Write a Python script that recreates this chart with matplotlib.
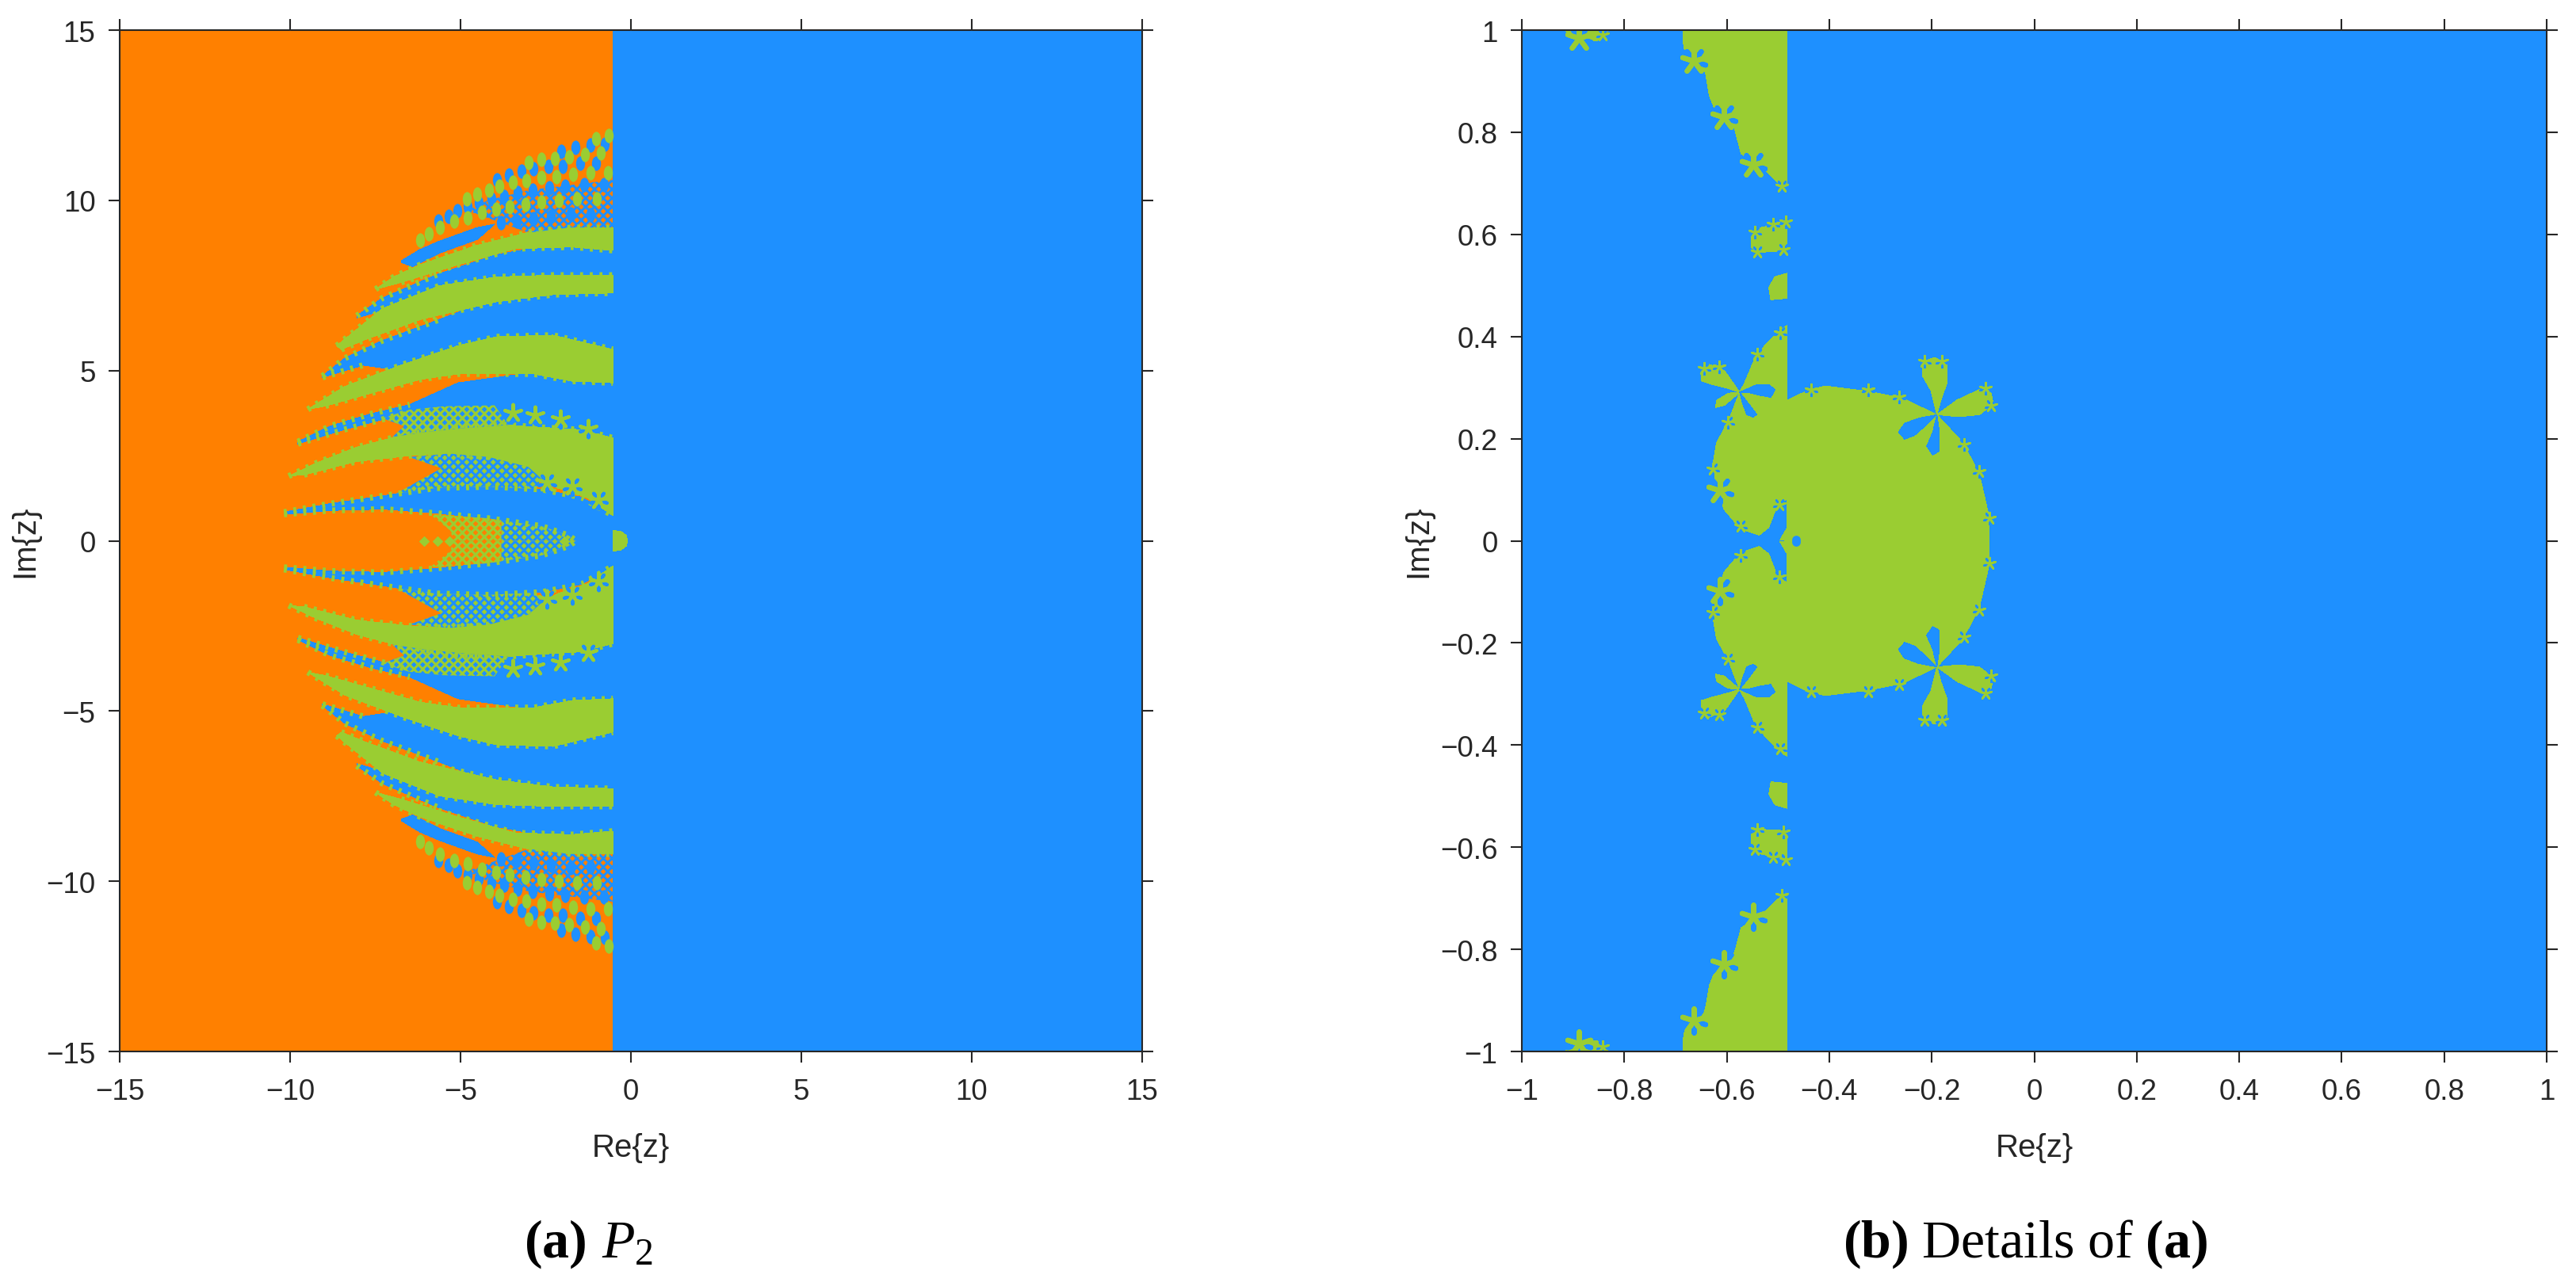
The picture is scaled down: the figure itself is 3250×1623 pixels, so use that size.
import numpy as np
import matplotlib
matplotlib.use('Agg')
import matplotlib.pyplot as plt
from matplotlib.markers import MarkerStyle
from matplotlib.transforms import Affine2D

plt.rcParams['font.family'] = ['Liberation Sans', 'DejaVu Sans']
plt.rcParams['mathtext.fontset'] = 'custom'
plt.rcParams['mathtext.rm'] = 'Liberation Serif'
plt.rcParams['mathtext.it'] = 'Liberation Serif:italic'
plt.rcParams['mathtext.bf'] = 'Liberation Serif:bold'
plt.rcParams['hatch.linewidth'] = 2.2

ORANGE = '#FF8000'
BLUE = '#1E90FF'
GREEN = '#9ACD32'
DARK = '#262626'

# ---- panel a, upper half only, the lower half is the mirror image ----
split_a = -0.53
ticks_a = [-15, -10, -5, 0, 5, 10, 15]

blue_0_up = [(-10.18, .84), (-8.82, 1.09), (-7.27, 1.32), (-5.72, 1.55), (-4.17, 1.59), (-2.62, 1.51), (-1.45, 1.28), (-.53, .74)]
blue_0_low = [(-10.18, .78), (-8.82, .89), (-7.27, .93), (-5.72, .81), (-4.17, .66), (-2.62, .43), (-1.84, .16), (-1.61, 0)]

green_1_up = [(-10.04, 1.90), (-9.21, 2.29), (-8.04, 2.75), (-6.88, 3.06), (-5.33, 3.33), (-3.78, 3.41), (-2.62, 3.33), (-1.45, 3.26), (-.53, 3.02)]
green_1_low = [(-9.59, 1.94), (-8.04, 2.33), (-6.49, 2.50), (-5.33, 2.56), (-4.17, 2.46), (-3.01, 2.17), (-2.62, 1.82), (-2.15, 1.55), (-1.30, 1.28), (-.53, .74)]

blue_1_up = [(-9.77, 2.91), (-8.82, 3.37), (-7.66, 3.72), (-6.49, 4.0), (-5.07, 4.64), (-2.84, 4.95), (-.53, 4.8)]
blue_1_low = [(-9.77, 2.85), (-8.43, 3.26), (-7.27, 3.57), (-6.49, 3.80), (-4.94, 3.95), (-3.78, 3.3), (-.53, 2.9)]

green_2_up = [(-9.48, 3.86), (-8.40, 4.53), (-6.74, 5.16), (-5.07, 5.73), (-3.95, 5.99), (-2.29, 6.04), (-.53, 5.62)]
green_2_low = [(-8.96, 3.96), (-7.29, 4.43), (-6.18, 4.74), (-5.07, 4.90), (-2.84, 4.90), (-1.73, 4.69), (-.53, 4.64)]

blue_2_up = [(-9.05, 4.84), (-8.40, 5.36), (-7.29, 5.88), (-5.62, 6.5), (-3.95, 7.15), (-2.29, 7.4), (-.53, 7.45)]
blue_2_low = [(-9.05, 4.80), (-7.85, 5.16), (-6.74, 5.0), (-5.07, 5.3), (-.53, 5.3)]

green_3_up = [(-8.63, 5.73), (-7.29, 6.82), (-5.62, 7.49), (-3.95, 7.75), (-2.29, 7.80), (-.53, 7.80)]
green_3_low = [(-8.5, 5.62), (-7.74, 5.93), (-6.18, 6.50), (-3.95, 7.02), (-2.29, 7.23), (-.53, 7.28)]

blue_3_up = [(-8.04, 6.61), (-7.29, 7.13), (-5.62, 7.85), (-3.95, 8.4), (-2.29, 8.7), (-.53, 8.7)]
blue_3_low = [(-8.04, 6.55), (-6.74, 6.92), (-5.62, 7.3), (-2.29, 7.5), (-.53, 7.5)]

green_4_up = [(-7.49, 7.39), (-6.96, 7.75), (-6.18, 8.11), (-4.51, 8.68), (-2.84, 9.10), (-1.73, 9.20), (-.53, 9.20)]
green_4_low = [(-6.74, 7.59), (-5.07, 8.11), (-3.40, 8.58), (-1.73, 8.63), (-.53, 8.53)]

blue_4_up = [(-6.74, 8.22), (-6.2, 8.55), (-5.62, 8.80), (-4.51, 9.2), (-4.0, 9.3)]
blue_4_low = [(-6.74, 8.18), (-6.4, 8.05), (-5.62, 8.45), (-4.51, 8.85), (-4.0, 9.3)]

bump_a = [(-.53, .30), (-.30, .28), (-.13, .15), (-.10, 0)]

speck_lens_left = [(-5.2, 0), (-5.3, .3), (-5.9, .78), (-4.2, .66), (-3.8, .6), (-3.8, 0)]
speck_lens_right = [(-3.8, 0), (-3.8, .6), (-2.62, .43), (-1.84, .16), (-1.61, 0)]
speck_1_low = [(-5.56, 2.13), (-6.5, 2.46), (-5.33, 2.56), (-4.17, 2.46), (-3.01, 2.17), (-2.62, 1.82), (-2.8, 1.52), (-4.17, 1.59), (-5.72, 1.55), (-6.9, 1.38)]
speck_1_up = [(-6.65, 3.37), (-7.3, 3.6), (-6.5, 3.85), (-5.5, 3.95), (-4, 3.98), (-3.6, 3.4), (-5, 3.3), (-6, 3.2), (-7.0, 3.05)]
speck_top = [(-4.8, 9.7), (-4.2, 10.0), (-3.0, 10.3), (-.53, 10.6), (-.53, 9.2), (-1.8, 9.2), (-3.0, 9.05)]

dots_green_x = [-.64, -1.03, -.88, -1.34, -1.81, -2.23, -2.62, -3.01, -.68, -1.19, -1.69, -2.19, -2.62, -3.06, -3.47, -3.85, -4.17, -4.52, -4.81, -.99, -1.57, -2.12, -2.62, -3.10, -3.55, -3.96, -4.37, -4.79, -5.18, -5.61, -5.93, -6.19]
dots_green_y = [11.90, 11.82, 11.39, 11.35, 11.28, 11.24, 11.20, 11.12, 10.81, 10.81, 10.77, 10.69, 10.66, 10.58, 10.52, 10.42, 10.31, 10.18, 10.04, 10.04, 10.04, 10.00, 9.96, 9.88, 9.80, 9.73, 9.65, 9.49, 9.38, 9.21, 9.03, 8.83]
dots_blue_x = [-.76, -1.19, -1.63, -2.04, -1.03, -1.50, -2.00, -2.43, -2.85, -3.22, -3.57, -3.94, -.80, -1.38, -1.92, -2.39, -2.88, -3.32, -3.71, -4.09, -4.46, -4.79, -5.09, -5.36, -5.64, -1.19, -1.77, -2.35, -2.87, -3.36, -3.81]
dots_blue_y = [11.66, 11.62, 11.55, 11.45, 11.08, 11.08, 11.00, 11.00, 10.93, 10.85, 10.73, 10.60, 10.46, 10.46, 10.42, 10.37, 10.31, 10.23, 10.11, 10.04, 9.92, 9.80, 9.69, 9.53, 9.38, 9.57, 9.61, 9.52, 9.47, 9.38, 9.34]

stars_a_x = [-2.46, -1.73, -.95, -3.47, -2.81, -2.08, -1.26]
stars_a_y = [1.71, 1.59, 1.20, 3.76, 3.68, 3.57, 3.29]
axis_dots_x = [-6.07, -5.68, -5.33, -1.95]
axis_dots_y = [0, 0, 0, 0]

# ---- panel b, upper half only, mirrored as well ----
split_b = -.482
ticks_b = [-1, -.8, -.6, -.4, -.2, 0, .2, .4, .6, .8, 1]
tick_labels_b = ['\u22121', '\u22120.8', '\u22120.6', '\u22120.4', '\u22120.2', '0', '0.2', '0.4', '0.6', '0.8', '1']

body_b = [(-.482, .422), (-.496, .413), (-.526, .382), (-.545, .358), (-.565, .310), (-.575, .291), (-.597, .234), (-.620, .192), (-.627, .151), (-.620, .102), (-.605, .061), (-.573, .023), (-.537, .011), (-.518, .026), (-.502, .068), (-.482, .083), (-.482, .026), (-.496, .002), (-.482, 0), (-.088, 0), (-.088, .047), (-.107, .130), (-.139, .192), (-.190, .247), (-.257, .279), (-.320, .292), (-.407, .303), (-.439, .296), (-.482, .275)]
top_b = [(-.686, 1), (-.684, .965), (-.665, .938), (-.642, .918), (-.634, .871), (-.626, .851), (-.585, .807), (-.572, .758), (-.526, .727), (-.500, .701), (-.482, .695), (-.482, 1)]
corner_b = [(-.915, 1), (-.90, .98), (-.875, .978), (-.85, .98), (-.83, 1)]
blob_6_b = [(-.552, .595), (-.54, .612), (-.50, .62), (-.482, .615), (-.482, .567), (-.54, .565), (-.552, .575)]
blob_5_b = [(-.518, .496), (-.506, .517), (-.482, .524), (-.482, .475), (-.514, .472)]

petals_green_b = [
    [(-.575, .291), (-.605, .334), (-.636, .346), (-.650, .337), (-.650, .313), (-.628, .306), (-.597, .298)],
    [(-.575, .291), (-.597, .289), (-.620, .275), (-.622, .261), (-.605, .265), (-.585, .282)],
    [(-.190, .247), (-.202, .295), (-.218, .323), (-.218, .351), (-.194, .359), (-.170, .344), (-.170, .310), (-.182, .276)],
    [(-.190, .247), (-.150, .276), (-.107, .296), (-.084, .289), (-.080, .268), (-.107, .247), (-.147, .243)],
]
petals_blue_b = [
    [(-.575, .291), (-.541, .306), (-.518, .306), (-.506, .296), (-.514, .281), (-.537, .285), (-.557, .290)],
    [(-.575, .291), (-.569, .268), (-.561, .247), (-.549, .242), (-.541, .247), (-.557, .268)],
    [(-.190, .247), (-.226, .240), (-.253, .230), (-.265, .213), (-.253, .199), (-.234, .206), (-.210, .227)],
    [(-.190, .247), (-.198, .213), (-.210, .185), (-.198, .168), (-.186, .175), (-.185, .213)],
]
hole_b_x = [-.465]
hole_b_y = [.002]

small_stars_x = [-.436, -.324, -.264, -.107, -.088, -.137, -.540, -.496, -.627, -.573, -.598, -.498, -.214, -.180, -.095, -.084, -.644, -.615, -.493, -.842, -.545, -.51, -.485, -.54, -.49]
small_stars_y = [.296, .296, .282, .135, .044, .189, .365, .408, .140, .028, .232, .071, .351, .352, .299, .265, .337, .341, .695, .99, .605, .62, .625, .565, .57]
big_stars_x = [-.665, -.606, -.548, -.614, -.889]
big_stars_y = [.94, .830, .736, .099, .985]


def xy(pts):
    a = np.array(pts)
    return a[:, 0], a[:, 1]


def both(ax, pts, color):
    x, y = xy(pts)
    ax.fill(x, y, color=color, lw=0, antialiased=False, zorder=2)
    ax.fill(x, -y, color=color, lw=0, antialiased=False, zorder=2)


def speckle(ax, pts, face, hatch_color, hatch='xxx'):
    x, y = xy(pts)
    for s in [1, -1]:
        if face is not None:
            ax.fill(x, s * y, color=face, lw=0, zorder=3)
        ax.fill(x, s * y, facecolor='none', edgecolor=hatch_color, hatch=hatch, lw=0, zorder=3)


def fringe(ax, pts, color=GREEN, lw=5.5):
    x, y = xy(pts)
    for s in [1, -1]:
        ax.plot(x, s * y, color=color, lw=lw, ls=(0, (0.5, 1.1)), zorder=4)


def both_scatter(ax, x, y, **kw):
    x = np.array(x)
    y = np.array(y)
    ax.scatter(x, y, **kw)
    ax.scatter(x, -y, **kw)


def stars(ax, x, y, s, lw):
    both_scatter(ax, x, y, marker=(5, 2, 36), s=s, color=BLUE, linewidths=lw, zorder=6)
    both_scatter(ax, x, y, marker=(5, 2, 0), s=s, color=GREEN, linewidths=lw, zorder=7)


def style(ax, ticks, labels):
    ax.set_xticks(ticks)
    ax.set_yticks(ticks)
    ax.set_xticklabels(labels)
    ax.set_yticklabels(labels)
    ax.tick_params(direction='out', length=10, width=1.5, color=DARK, labelcolor=DARK,
                   labelsize=26.5, top=True, right=True, pad=12)
    ax.tick_params(axis='x', pad=14)
    for sp in ax.spines.values():
        sp.set_linewidth(1.5)
        sp.set_color(DARK)
        sp.set_zorder(10)
    ax.set_xlabel('Re{z}', fontsize=29, color=DARK, labelpad=24)
    ax.set_ylabel('Im{z}', fontsize=29, color=DARK, labelpad=6)


fig = plt.figure(figsize=(32.5, 16.24), dpi=100)
ax1 = fig.add_axes([151 / 3250, 1 - 1328 / 1624, 1290 / 3250, 1289 / 1624])
ax2 = fig.add_axes([1920 / 3250, 1 - 1328 / 1624, 1293 / 3250, 1289 / 1624])

# panel a
ax1.axvspan(-15, split_a, color=ORANGE, lw=0, zorder=1)
ax1.axvspan(split_a, 15, color=BLUE, lw=0, zorder=1)

both(ax1, blue_0_up + [(-.53, 0)] + blue_0_low[::-1], BLUE)
both(ax1, blue_1_up + blue_1_low[::-1], BLUE)
both(ax1, blue_2_up + blue_2_low[::-1], BLUE)
both(ax1, blue_3_up + blue_3_low[::-1], BLUE)
both(ax1, blue_4_up + blue_4_low[::-1], BLUE)
both(ax1, green_1_up + green_1_low[::-1], GREEN)
both(ax1, green_2_up + green_2_low[::-1], GREEN)
both(ax1, green_3_up + green_3_low[::-1], GREEN)
both(ax1, green_4_up + green_4_low[::-1], GREEN)
both(ax1, bump_a + [(-.53, 0)], GREEN)

speckle(ax1, speck_top, None, BLUE)
speckle(ax1, speck_lens_left, ORANGE, GREEN)
speckle(ax1, speck_lens_right, GREEN, BLUE)
speckle(ax1, speck_1_low, GREEN, BLUE)
speckle(ax1, speck_1_up, BLUE, GREEN)

for edge in [blue_0_up, blue_0_low, green_1_low[:5], green_2_low, green_2_up, blue_1_up[:4], blue_1_low[:4],
             green_3_low, green_3_up, green_4_low, green_4_up, green_1_up, blue_2_up[:4], blue_3_up[:3], blue_2_low[:2]]:
    fringe(ax1, edge)

tall = MarkerStyle('o', transform=Affine2D().scale(.75, 1.2))
both_scatter(ax1, dots_blue_x, dots_blue_y, s=120, color=BLUE, marker=tall, lw=0, zorder=5)
both_scatter(ax1, dots_green_x, dots_green_y, s=120, color=GREEN, marker=tall, lw=0, zorder=5)
both_scatter(ax1, axis_dots_x, axis_dots_y, s=45, color=GREEN, marker='D', lw=0, zorder=5)
stars(ax1, stars_a_x, stars_a_y, 240, 3)
ax1.set_xlim(-15, 15)
ax1.set_ylim(-15, 15)
style(ax1, ticks_a, ['\u221215', '\u221210', '\u22125', '0', '5', '10', '15'])

# panel b
ax2.set_facecolor(BLUE)
both(ax2, body_b, GREEN)
both(ax2, top_b, GREEN)
both(ax2, corner_b, GREEN)
both(ax2, blob_6_b, GREEN)
both(ax2, blob_5_b, GREEN)
for p in petals_green_b:
    both(ax2, p, GREEN)
for p in petals_blue_b:
    x, y = xy(p)
    ax2.fill(x, y, color=BLUE, lw=0, antialiased=False, zorder=3)
    ax2.fill(x, -y, color=BLUE, lw=0, antialiased=False, zorder=3)
both_scatter(ax2, hole_b_x, hole_b_y, s=60, color=BLUE, marker='o', lw=0, zorder=4)
stars(ax2, small_stars_x, small_stars_y, 110, 2)
stars(ax2, big_stars_x, big_stars_y, 480, 4.5)
ax2.set_xlim(-1, 1)
ax2.set_ylim(-1, 1)
style(ax2, ticks_b, tick_labels_b)

fig.text(742 / 3250, 1 - 1570 / 1624, r'$\mathbf{(a)}$ $\mathit{P}_{2}$', ha='center', va='center', fontsize=49, color='black')
fig.text(2555 / 3250, 1 - 1570 / 1624, r'$\mathbf{(b)}\ \mathrm{Details\ of\ }\mathbf{(a)}$', ha='center', va='center', fontsize=49, color='black')

fig.savefig('out.png', dpi=100)
